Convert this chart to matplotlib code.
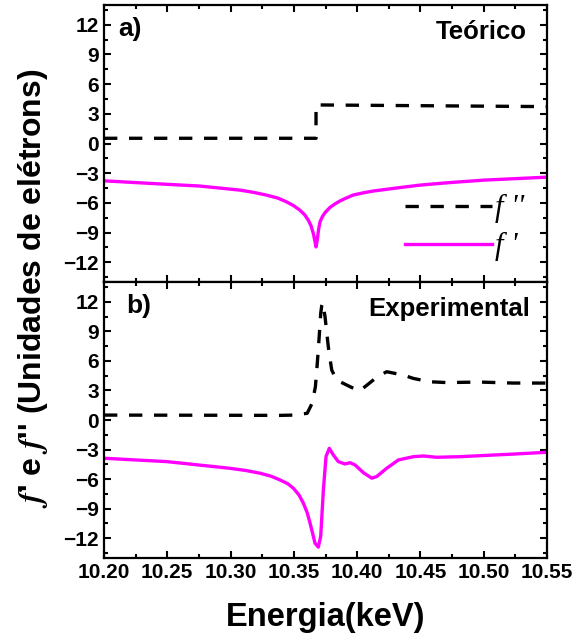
import matplotlib.pyplot as plt
import numpy as np
from matplotlib.ticker import MultipleLocator

plt.rcParams['font.family'] = ['Liberation Sans', 'DejaVu Sans']
plt.rcParams['font.weight'] = 'bold'
plt.rcParams['mathtext.fontset'] = 'stix'

# a) theoretical values
e_teo_f2 = [10.20, 10.3675, 10.3675, 10.55]
f2_teo = [0.53, 0.53, 3.9, 3.73]

e_teo_f1 = [10.20, 10.2364, 10.2758, 10.3074, 10.318, 10.3285, 10.337, 10.3443,
            10.350, 10.3548, 10.3585, 10.3614, 10.3635, 10.3654, 10.3668, 10.3675,
            10.3684, 10.3695, 10.3707, 10.3725, 10.3745, 10.3786, 10.3825, 10.3865,
            10.3915, 10.397, 10.405, 10.4128, 10.4339, 10.45, 10.471, 10.50, 10.55]
f1_teo = [-3.77, -4.03, -4.3, -4.71, -4.93, -5.22, -5.5, -5.9,
          -6.3, -6.74, -7.2, -7.75, -8.3, -9.1, -10.0, -10.45,
          -9.8, -8.7, -7.9, -7.4, -7.0, -6.45, -6.1, -5.8,
          -5.5, -5.2, -4.98, -4.8, -4.45, -4.2, -3.97, -3.7, -3.4]

# b) experimental values
e_exp_f2 = [10.20, 10.30, 10.339, 10.3496, 10.3605, 10.3644, 10.3670, 10.3685, 10.370,
            10.3712, 10.3720, 10.3728, 10.3746, 10.3772, 10.3799, 10.3838, 10.3957,
            10.4022, 10.4154, 10.4233, 10.4365, 10.4444, 10.4576, 10.4708, 10.497,
            10.523, 10.55]
f2_exp = [0.5, 0.48, 0.47, 0.5, 0.68, 1.69, 3.37, 5.74, 8.44,
          10.8, 11.6, 11.9, 10.5, 7.43, 5.07, 4.05, 3.3,
          2.97, 4.33, 4.9, 4.56, 4.22, 3.88, 3.8, 3.85,
          3.75, 3.75]

e_exp_f1 = [10.20, 10.2495, 10.2996, 10.312, 10.3233, 10.332, 10.339, 10.345,
            10.3496, 10.354, 10.3575, 10.3605, 10.3628, 10.365, 10.3667, 10.3693,
            10.3712, 10.3733, 10.3754, 10.378, 10.3812, 10.3851, 10.3903, 10.3944,
            10.3983, 10.4049, 10.4115, 10.4154, 10.4233, 10.4326, 10.4444, 10.4523,
            10.4628, 10.4813, 10.497, 10.523, 10.55]
f1_exp = [-3.88, -4.22, -4.9, -5.12, -5.4, -5.7, -6.08, -6.45,
          -6.92, -7.6, -8.44, -9.4, -10.47, -11.6, -12.5, -12.9,
          -11.8, -7.1, -3.7, -2.87, -3.55, -4.22, -4.46, -4.33,
          -4.56, -5.34, -5.9, -5.74, -4.9, -4.05, -3.72, -3.65,
          -3.78, -3.72, -3.62, -3.46, -3.27]

magenta = '#FF00FF'
lw = 2.4

fig = plt.figure(figsize=(5.74, 6.41), dpi=100)
ax1 = fig.add_axes([0.1812, 0.5600, 0.7718, 0.4322])
ax2 = fig.add_axes([0.1812, 0.1295, 0.7718, 0.4305])

for ax in (ax1, ax2):
    ax.set_xlim(10.20, 10.55)
    ax.set_ylim(-14, 14)
    ax.xaxis.set_major_locator(MultipleLocator(0.05))
    ax.xaxis.set_minor_locator(MultipleLocator(0.025))
    ax.yaxis.set_major_locator(MultipleLocator(3))
    ax.yaxis.set_minor_locator(MultipleLocator(1.5))
    ax.tick_params(which='both', direction='in', top=True, right=True, width=1.5,
                   labelsize=15)
    ax.tick_params(which='major', length=5)
    ax.tick_params(which='minor', length=3)
    for s in ax.spines.values():
        s.set_linewidth(1.6)
    for lab in ax.get_xticklabels() + ax.get_yticklabels():
        lab.set_fontweight('bold')

ax1.plot(e_teo_f2, f2_teo, color='black', lw=lw, dashes=(4, 3.5), label="f ''")
ax1.plot(e_teo_f1, f1_teo, color=magenta, lw=lw, label="f '",
         solid_joinstyle='round')
ax1.tick_params(labelbottom=False)
ax1.text(0.032, 0.957, 'a)', transform=ax1.transAxes, fontsize=19,
         fontweight='bold', va='top', ha='left')
ax1.text(0.955, 0.946, 'Teórico', transform=ax1.transAxes, fontsize=18.5,
         fontweight='bold', va='top', ha='right')
ax1.legend(loc='lower left', bbox_to_anchor=(0.618, -0.025), frameon=False,
           handlelength=2.85, handletextpad=0.1, labelspacing=0.3,
           prop={'family': 'Liberation Serif', 'style': 'italic',
                 'weight': 'normal', 'size': 22})

ax2.plot(e_exp_f2, f2_exp, color='black', lw=lw, dashes=(4, 3.5))
ax2.plot(e_exp_f1, f1_exp, color=magenta, lw=lw, solid_joinstyle='round')
ax2.text(0.05, 0.957, 'b)', transform=ax2.transAxes, fontsize=19,
         fontweight='bold', va='top', ha='left')
ax2.text(0.962, 0.946, 'Experimental', transform=ax2.transAxes, fontsize=18.5,
         fontweight='bold', va='top', ha='right')

fig.text(0.567, 0.037, 'Energia(keV)', ha='center', va='center',
         fontsize=23.5, fontweight='bold')
fig.text(0.058, 0.5507, r"$\mathit{f}$' e $\mathit{f}$'' (Unidades de elétrons)",
         rotation=90, ha='center', va='center', fontsize=23, fontweight='bold')

fig.savefig('out.png', dpi=100)
